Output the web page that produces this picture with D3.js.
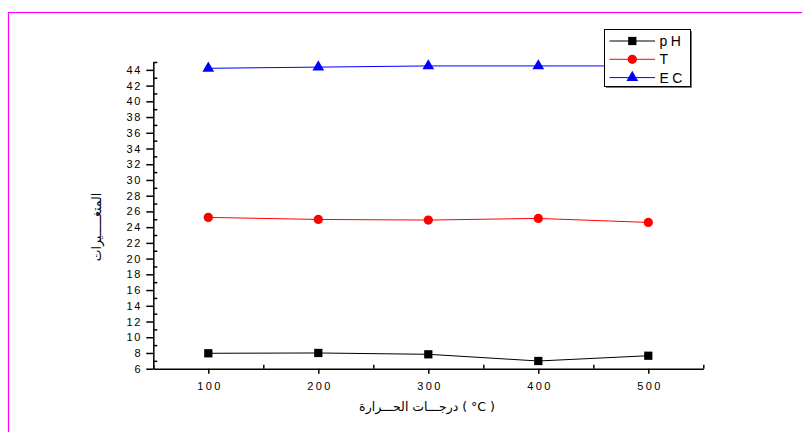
<!DOCTYPE html>
<html>
<head>
<meta charset="utf-8">
<script src="https://cdn.jsdelivr.net/npm/d3@7"></script>
<style>
  body { margin: 0; background: #fff; }
  svg { display: block; }
</style>
</head>
<body>
<div id="chart"></div>
<script>
// temperature steps (x) and measured values
const temps = [100, 200, 300, 400, 500];
const phValues = [7.96, 8.0, 7.83, 6.98, 7.65];
const tValues = [25.24, 24.98, 24.9, 25.11, 24.6];
const ecValues = [44.2, 44.35, 44.5, 44.5, 44.5];

const seriesNames = ["pH", "T", "EC"];
const seriesColors = ["#000000", "#ff0000", "#0000ff"];
const seriesSymbols = [d3.symbolSquare, d3.symbolCircle, d3.symbolTriangle];

const xMajor = [100, 200, 300, 400, 500];
const xMinor = [50, 150, 250, 350, 450, 550];
const yMajor = d3.range(6, 46, 2);
const yMinor = d3.range(7, 46, 2);

const width = 802;
const height = 432;

const svg = d3.select('#chart')
    .append("svg")
    .attr("width", width)
    .attr("height", height);

// magenta frame (runs off right and bottom)
svg.append("rect")
    .attr("x", 8.5).attr("y", 12.5)
    .attr("width", 820).attr("height", 440)
    .attr("fill", "none")
    .attr("stroke", "#ff00ff")
    .attr("stroke-width", 1.2);

const x = d3.scaleLinear().domain([50, 550]).range([153.3, 703.3]);
const y = d3.scaleLinear().domain([6, 45]).range([368.7, 62]);

const tickFont = "'Liberation Sans', Arial, sans-serif";

// x axis: major ticks out, minor ticks in
const xAxisG = svg.append("g").attr("transform", `translate(0, ${y(6)})`);
xAxisG.call(d3.axisBottom(x).tickValues(xMajor).tickSize(5).tickSizeOuter(0).tickPadding(9))
xAxisG.append("g").call(d3.axisTop(x).tickValues(xMinor).tickSize(4).tickFormat("").tickSizeOuter(0))
    .call(g => g.select(".domain").remove());
xAxisG.selectAll("line").attr("stroke-width", 1.5);
xAxisG.select(".domain").attr("stroke-width", 1.5);
xAxisG.selectAll("text")
    .attr("font-family", tickFont).attr("font-size", 11)
    .attr("letter-spacing", 2.4).attr("dx", 1.2)
    .attr("fill", "#000");

// y axis: major ticks out (left), minor ticks in (right)
const yAxisG = svg.append("g").attr("transform", `translate(${x(50)}, 0)`);
yAxisG.call(d3.axisLeft(y).tickValues(yMajor).tickSize(7).tickSizeOuter(0).tickPadding(4));
yAxisG.append("g").call(d3.axisRight(y).tickValues(yMinor).tickSize(4).tickFormat("").tickSizeOuter(0))
    .call(g => g.select(".domain").remove());
yAxisG.selectAll("line").attr("stroke-width", 1.5);
yAxisG.select(".domain").attr("stroke-width", 1.5);
yAxisG.selectAll("text")
    .attr("font-family", tickFont).attr("font-size", 11)
    .attr("letter-spacing", 1.8)
    .attr("fill", "#000");

// axis titles
svg.append("text")
    .attr("x", 427).attr("y", 411)
    .attr("text-anchor", "middle")
    .attr("font-family", "'DejaVu Sans', sans-serif")
    .attr("font-size", 12.5)
    .text("درجـــات الحـــرارة ( °C )");

svg.append("text")
    .attr("transform", "translate(101, 227) rotate(-90)")
    .attr("text-anchor", "middle")
    .attr("font-family", "'DejaVu Sans', sans-serif")
    .attr("font-size", 12.5)
    .text("المتغـــــيرات");

// series lines and markers
const allSeries = [phValues, tValues, ecValues].map((vals, i) => ({
    name: seriesNames[i],
    color: seriesColors[i],
    symbol: seriesSymbols[i],
    points: temps.map((t, j) => ({ t: t, v: vals[j] }))
}));

const line = d3.line().x(d => x(d.t)).y(d => y(d.v));

const seriesG = svg.selectAll("g.series")
    .data(allSeries)
    .join("g")
    .attr("class", "series");

seriesG.append("path")
    .attr("d", d => line(d.points))
    .attr("fill", "none")
    .attr("stroke", d => d.color)
    .attr("stroke-width", 1);

seriesG.each(function(s) {
    d3.select(this).selectAll("path.mark")
        .data(s.points)
        .join("path")
        .attr("class", "mark")
        .attr("d", d3.symbol().type(s.symbol).size(s.symbol === d3.symbolTriangle ? 60 : 68))
        .attr("transform", d => `translate(${x(d.t)}, ${y(d.v)})`)
        .attr("fill", s.color);
});

// legend (opaque, covers the last EC point)
const legend = svg.append("g").attr("transform", "translate(604.5, 29.5)");
legend.append("rect")
    .attr("x", 1.5).attr("y", 1.5).attr("width", 86).attr("height", 57)
    .attr("fill", "#777");
legend.append("rect")
    .attr("width", 86).attr("height", 57)
    .attr("fill", "#fff").attr("stroke", "#000").attr("stroke-width", 1);

const legendRows = legend.selectAll("g.legend")
    .data(allSeries)
    .join("g")
    .attr("class", "legend")
    .attr("transform", (d, i) => `translate(0, ${11.5 + i * 18.3})`);

legendRows.append("line")
    .attr("x1", 5).attr("x2", 50.5)
    .attr("stroke", d => d.color).attr("stroke-width", 1);
legendRows.append("path")
    .attr("d", d => d3.symbol().type(d.symbol).size(d.symbol === d3.symbolTriangle ? 60 : 68)())
    .attr("transform", "translate(27.8, 0)")
    .attr("fill", d => d.color);
legendRows.append("text")
    .attr("x", 55)
    .attr("y", 5)
    .attr("font-family", tickFont)
    .attr("font-size", 14)
    .attr("letter-spacing", 3.5)
    .text(d => d.name);
</script>
</body>
</html>
